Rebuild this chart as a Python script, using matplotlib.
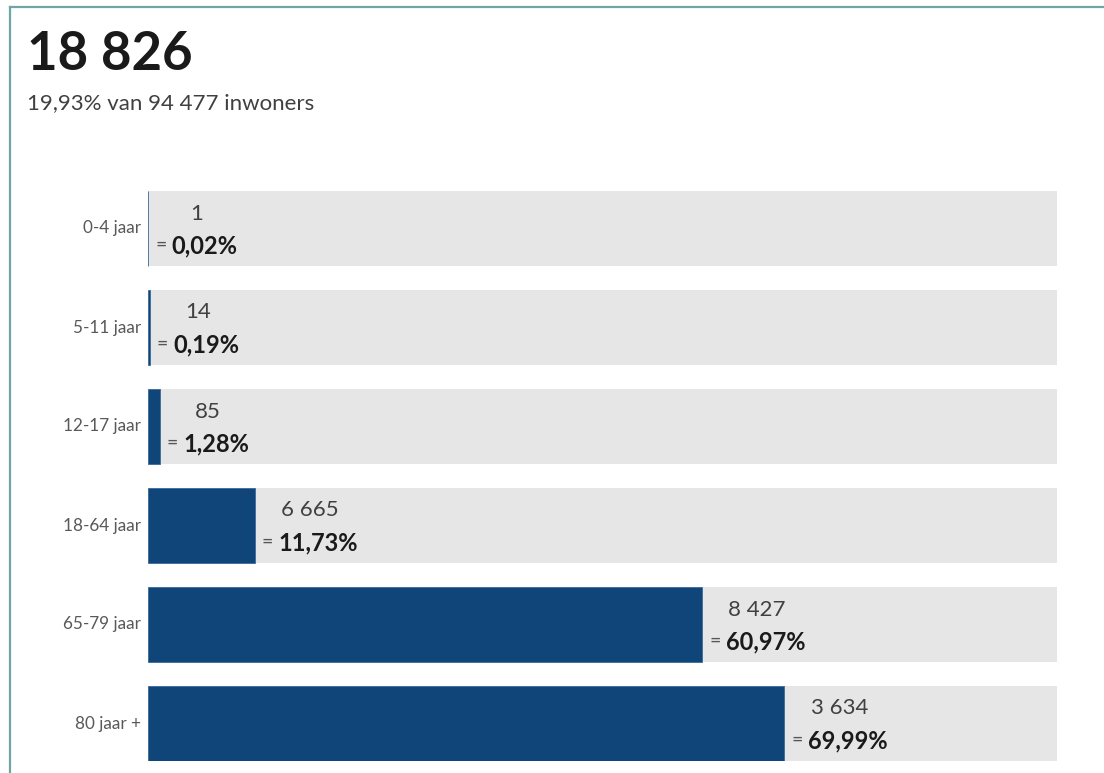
import matplotlib
matplotlib.use("Agg")
import matplotlib.pyplot as plt
from matplotlib.lines import Line2D

plt.rcParams['font.family'] = ['Lato', 'DejaVu Sans']

# data
categories = ['0-4 jaar', '5-11 jaar', '12-17 jaar', '18-64 jaar', '65-79 jaar', '80 jaar +']
counts = ['1', '14', '85', '6 665', '8 427', '3 634']
percentages = [0.02, 0.19, 1.28, 11.73, 60.97, 69.99]
total_label = '18 826'
subtitle = '19,93% van 94 477 inwoners'

W, H = 1104, 773
fig = plt.figure(figsize=(W / 100, H / 100), dpi=100)

# frame lines (top and left)
fig.add_artist(Line2D([10 / W, 1], [1 - 7 / H, 1 - 7 / H], color='#6fa5a5', lw=1.6))
fig.add_artist(Line2D([10 / W, 10 / W], [0, 1 - 7 / H], color='#6fa5a5', lw=1.6))

fig.text(27 / W, 1 - 54 / H, total_label, fontsize=38, fontweight='bold',
         color='#1a1a1a', va='center', ha='left')
fig.text(27 / W, 1 - 103 / H, subtitle, fontsize=16, color='#404040',
         va='center', ha='left')

h = 75 / 99
ax = fig.add_axes([148 / W, 12 / H, 909 / W, 570 / H])
ys = list(range(len(categories)))
ax.barh(ys, [100] * len(ys), height=h, color='#e6e6e6', left=0)
ax.barh(ys, percentages, height=h, color='#10457a', edgecolor='#3a6a9a', linewidth=0.6)
ax.set_xlim(0, 100)
ax.set_ylim(len(ys) - 1 + h / 2, -h / 2)
ax.axis('off')

for y, cat in zip(ys, categories):
    ax.annotate(cat, (0, y), xytext=(-7, 0), textcoords='offset pixels',
                ha='right', va='center', fontsize=12.3, color='#595959')

fig.canvas.draw()
r = fig.canvas.get_renderer()
for y, c, p in zip(ys, counts, percentages):
    eq = ax.annotate('=', (p, y), xytext=(7, -17), textcoords='offset pixels',
                     ha='left', va='center', fontsize=14, color='#555555')
    bb = eq.get_window_extent(r)
    pt = ax.annotate(f'{p:.2f}%'.replace('.', ','), (p, y),
                     xytext=(7 + bb.width + 5, -17), textcoords='offset pixels',
                     ha='left', va='center', fontsize=17, fontweight='bold', color='#1a1a1a')
    bb2 = pt.get_window_extent(r)
    mid = (bb.x0 + bb2.x1) / 2
    x0 = ax.transData.transform((p, y))[0]
    ax.annotate(c, (p, y), xytext=(mid - x0, 15), textcoords='offset pixels',
                ha='center', va='center', fontsize=16, color='#404040')

fig.savefig('out.png', dpi=100)
